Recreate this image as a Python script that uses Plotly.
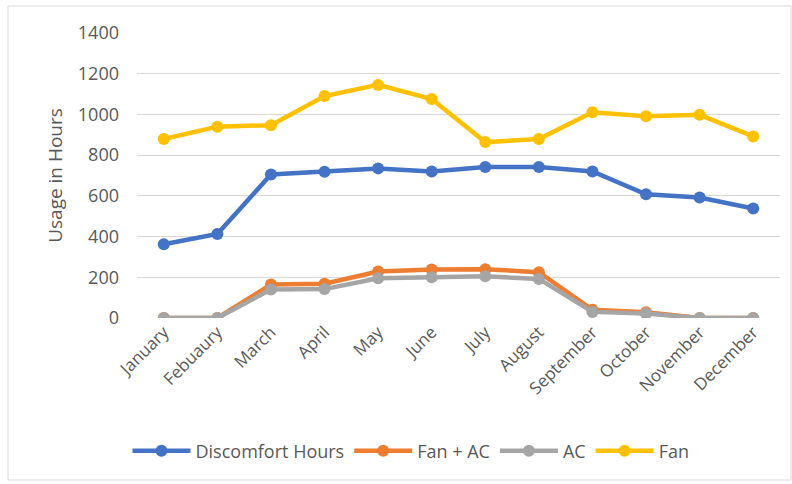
import plotly.graph_objects as go

months = ["January", "Febuaury", "March", "April", "May", "June", "July",
          "August", "September", "October", "November", "December"]
discomfort = [362, 413, 705, 718, 735, 720, 742, 742, 720, 608, 592, 538]
fan_ac = [0, 0, 165, 168, 228, 238, 240, 225, 40, 28, 0, 0]
ac = [0, 0, 140, 142, 195, 200, 205, 192, 30, 22, 0, 0]
fan = [879, 940, 947, 1090, 1145, 1076, 864, 879, 1011, 991, 998, 892]
y_ticks = [0, 200, 400, 600, 800, 1000, 1200, 1400]

W, H = 792, 484
L, R, T, B = 137, 12, 33, 166
pw, ph = W - L - R, H - T - B

font = "Open Sans, Liberation Sans, sans-serif"
txt = "#595959"

fig = go.Figure()
for name, vals, col in [("Discomfort Hours", discomfort, "#4472C4"),
                        ("Fan + AC", fan_ac, "#ED7D31"),
                        ("AC", ac, "#A5A5A5"),
                        ("Fan", fan, "#FFC000")]:
    fig.add_trace(go.Scatter(x=months, y=vals, name=name, mode="lines+markers",
                             line=dict(color=col, width=4.5),
                             marker=dict(color=col, size=12)))

def px_x(p):
    return (p - L) / pw

def px_y(p):
    return (H - B - p) / ph

fig.add_shape(type="rect", xref="paper", yref="paper",
              x0=px_x(8), x1=px_x(791), y0=px_y(480), y1=px_y(6),
              line=dict(color="#D9D9D9", width=1), fillcolor="rgba(0,0,0,0)", layer="below")

fig.update_layout(
    width=W, height=H,
    margin=dict(l=L, r=R, t=T, b=B, autoexpand=False),
    paper_bgcolor="white", plot_bgcolor="white",
    font=dict(family=font, color=txt, size=15),
    showlegend=True,
    legend=dict(orientation="h", x=px_x(411), xanchor="center",
                y=px_y(451), yanchor="middle",
                font=dict(size=18, color=txt), itemwidth=58,
                traceorder="normal"),
    xaxis=dict(tickangle=-45, tickfont=dict(size=17, color=txt), automargin=False,
               range=[-0.5, len(months) - 0.5],
               showgrid=False, showline=False, ticks="", zeroline=False),
    yaxis=dict(range=[0, 1400], tickvals=y_ticks, tickfont=dict(size=18, color=txt),
               automargin=False,
               showgrid=True, gridcolor="#D9D9D9", gridwidth=1, zeroline=False,
               ticks="", ticklabelstandoff=17,
               title=dict(text="Usage in Hours", font=dict(size=19, color=txt), standoff=10)),
)

fig.write_html("out.html", config={"displayModeBar": False},
               post_script="document.body.style.margin='0';document.body.style.overflow='hidden';")
